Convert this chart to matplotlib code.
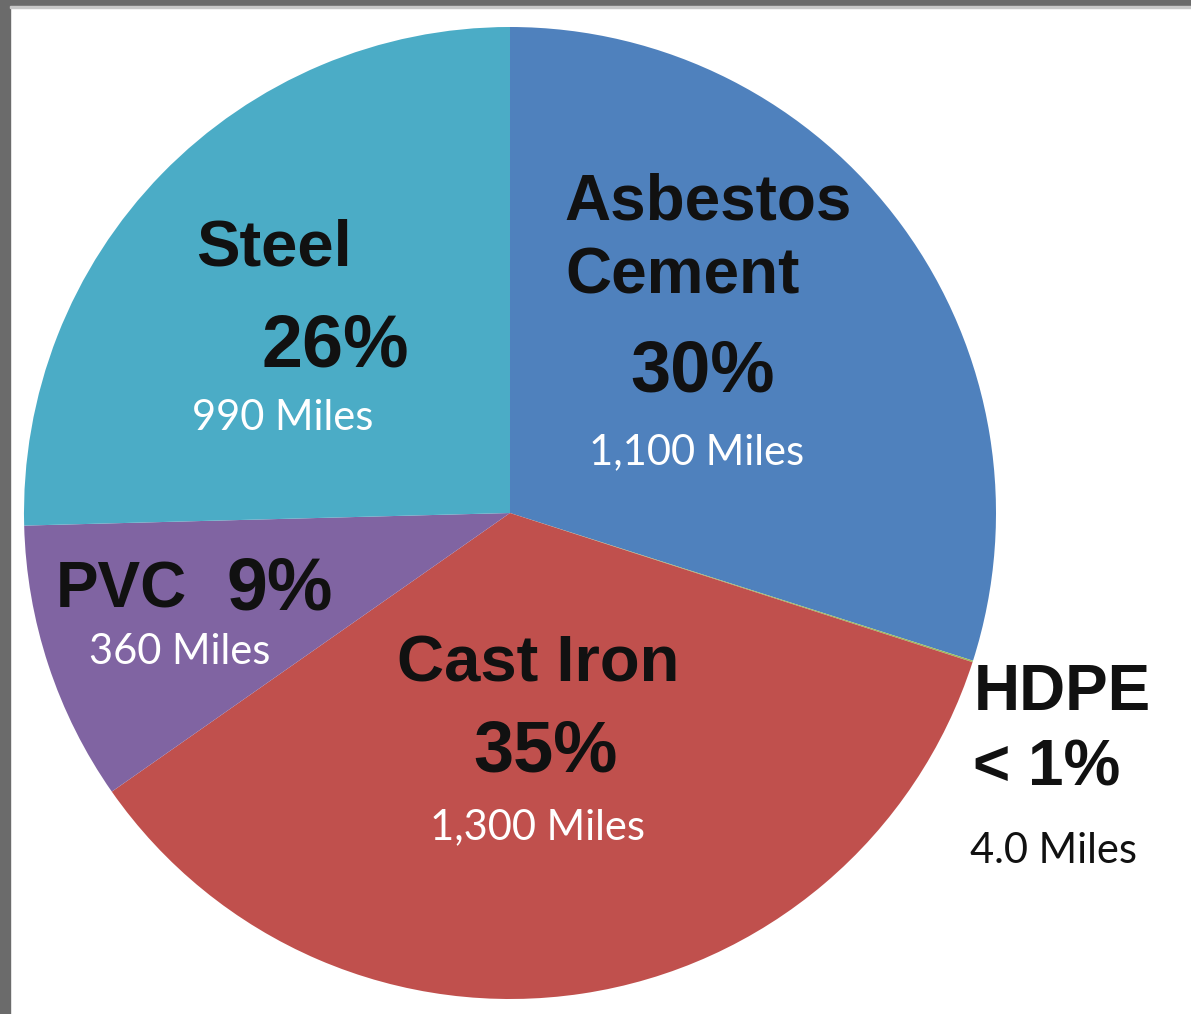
import matplotlib.pyplot as plt
from matplotlib.patches import Rectangle

# Pipe material shares (slice sizes), clockwise from 12 o'clock
materials = ['Asbestos\nCement', 'HDPE', 'Cast Iron', 'PVC', 'Steel']
shares = [29.9, 0.05, 35.3, 9.3, 25.4]
pct_labels = ['30%', '< 1%', '35%', '9%', '26%']
mile_labels = ['1,100 Miles', '4.0 Miles', '1,300 Miles', '360 Miles', '990 Miles']
colors = ['#4f81bd', '#9bbb59', '#c0504d', '#8064a2', '#4bacc6']

W, H = 1191, 1014
fig = plt.figure(figsize=(W / 100, H / 100), dpi=100)
fig.patch.set_facecolor('white')
ax = fig.add_axes([0, 0, 1, 1])

# pie in pixel units (y measured from bottom)
ax.pie(shares, colors=colors, startangle=90, counterclock=False,
       center=(510, H - 513), radius=486, frame=True,
       wedgeprops=dict(linewidth=0))
ax.set_xlim(0, W)
ax.set_ylim(0, H)
ax.axis('off')

bold = dict(family='Liberation Sans', weight='bold', ha='center', va='center',
            color='#111111')
light = dict(family='Lato', ha='center', va='center')

def px(x, y):
    return x, H - y

# Asbestos Cement
ax.text(*px(708, 203), 'Asbestos', fontsize=46, **bold)
ax.text(*px(683, 277), 'Cement', fontsize=46, **bold)
ax.text(*px(703, 372), pct_labels[0], fontsize=52, **bold)
ax.text(*px(697, 452), mile_labels[0], fontsize=30, color='white', **light)

# Steel
ax.text(*px(274, 248), materials[4], fontsize=47, **bold)
ax.text(*px(335, 347), pct_labels[4], fontsize=53, **bold)
ax.text(*px(283, 418), mile_labels[4], fontsize=30, color='white', **light)

# PVC
ax.text(*px(121, 590), materials[3], fontsize=46, **bold)
ax.text(*px(280, 590), pct_labels[3], fontsize=53, **bold)
ax.text(*px(180, 652), mile_labels[3], fontsize=30, color='white', **light)

# Cast Iron
ax.text(*px(538, 665), materials[2], fontsize=47, **bold)
ax.text(*px(546, 752), pct_labels[2], fontsize=52, **bold)
ax.text(*px(538, 827), mile_labels[2], fontsize=30, color='white', **light)

# HDPE (outside the pie)
ax.text(*px(1062, 693), materials[1], fontsize=46, **bold)
ax.text(*px(1047, 768), pct_labels[1], fontsize=46, **bold)
ax.text(*px(1053, 851), mile_labels[1], fontsize=30, color='#111111', **light)

# grey slide frame on the left and top
fig.patches.append(Rectangle((0, 0), 10 / W, 1, transform=fig.transFigure,
                             color='#6b6b6b', zorder=10))
fig.patches.append(Rectangle((0, 1 - 6 / H), 1, 6 / H, transform=fig.transFigure,
                             color='#6b6b6b', zorder=10))
fig.patches.append(Rectangle((10 / W, 1 - 8 / H), 1, 2 / H, transform=fig.transFigure,
                             color='#c8c8c8', zorder=10))

fig.savefig('out.png', dpi=100)
